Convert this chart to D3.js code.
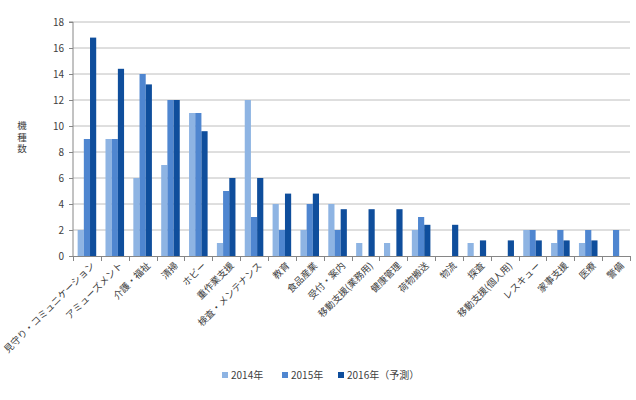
<!DOCTYPE html>
<html><head><meta charset="utf-8">
<script src="https://cdn.jsdelivr.net/npm/d3@7"></script>
<style>body{margin:0;background:#fff;} text{font-family:"Noto Sans CJK JP","Noto Sans",sans-serif;}</style>
</head><body><svg id="c" width="636" height="400"></svg>
<script>
const categories = ["見守り・コミュニケーション","アミューズメント","介護・福祉","清掃","ホビー","重作業支援","検査・メンテナンス","教育","食品産業","受付・案内","移動支援(業務用)","健康管理","荷物搬送","物流","探査","移動支援(個人用)","レスキュー","家事支援","医療","警備"];
const seriesNames = ["2014年","2015年","2016年（予測）"];
const v2014 = [2,9,6,7,11,1,12,4,2,4,1,1,2,0,1,0,2,1,1,0];
const v2015 = [9,9,14,12,11,5,3,2,4,2,0,0,3,0,0,0,2,2,2,2];
const v2016 = [16.8,14.4,13.2,12,9.6,6,6,4.8,4.8,3.6,3.6,3.6,2.4,2.4,1.2,1.2,1.2,1.2,1.2,0];
const yTicks = [0,2,4,6,8,10,12,14,16,18];
const yTitle = "機種数";
const colors = ["#8EB4E3","#4F86D0","#0F4E9C"];

const svg = d3.select("#c");
const L=73, R=630, T=22, B=256;
const x = d3.scaleBand().domain(categories).range([L,R]).paddingInner(0).paddingOuter(0);
const bw = x.bandwidth()/4.5;
const x1 = d3.scaleBand().domain(seriesNames).range([bw*0.75, bw*3.75]);
const y = d3.scaleLinear().domain([0,18]).range([B,T]);

// grid
svg.append("g").selectAll("line").data(yTicks.filter(d=>d>0)).join("line")
  .attr("x1",L).attr("x2",R).attr("y1",d=>y(d)).attr("y2",d=>y(d))
  .attr("stroke","#BEBEBE").attr("stroke-width",1);

// bars
const data = [v2014,v2015,v2016];
const g = svg.append("g");
categories.forEach((c,i)=>{
  seriesNames.forEach((s,j)=>{
    const v = data[j][i];
    if(v>0) g.append("rect").attr("x",x(c)+x1(s)).attr("width",x1.bandwidth())
      .attr("y",y(v)).attr("height",B-y(v)).attr("fill",colors[j]);
  });
});

// y axis
const ya = svg.append("g").attr("transform",`translate(${L},0)`)
  .call(d3.axisLeft(y).tickValues(yTicks).tickSize(4).tickPadding(5));
ya.select(".domain").attr("stroke","#868686").attr("d",`M-4,${T}H0V${B}`);
ya.selectAll(".tick line").attr("stroke","#868686");
ya.selectAll("text").attr("font-size",10).attr("fill","#404040").attr("font-family","Noto Sans, sans-serif");

// x axis
svg.append("line").attr("x1",L).attr("x2",R).attr("y1",B+0.5).attr("y2",B+0.5).attr("stroke","#868686");
const edges = categories.map(c=>x(c)).concat([R]);
svg.append("g").selectAll("line").data(edges).join("line")
  .attr("x1",d=>Math.round(d)+0.5).attr("x2",d=>Math.round(d)+0.5).attr("y1",B).attr("y2",B+5).attr("stroke","#868686");

svg.append("g").selectAll("text").data(categories).join("text")
  .attr("transform",d=>`translate(${x(d)+x.bandwidth()/2+6},${B+8}) rotate(-45)`)
  .attr("text-anchor","end").attr("dy","0.35em")
  .attr("font-size",9.5).attr("fill","#404040").text(d=>d);

// y title (vertical, upright characters)
svg.append("text").attr("x",22).attr("y",121)
  .style("writing-mode","vertical-rl").style("text-orientation","upright")
  .attr("letter-spacing",2)
  .attr("font-size",9.5).attr("fill","#404040").text(yTitle);

// legend
const lx = [222,282,338];
const lg = svg.append("g");
seriesNames.forEach((s,j)=>{
  lg.append("rect").attr("x",lx[j]).attr("y",372).attr("width",6).attr("height",6).attr("fill",colors[j]);
  lg.append("text").attr("x",lx[j]+9).attr("y",375).attr("dy","0.35em").attr("font-size",10).attr("fill","#404040").text(s);
});
</script></body></html>
